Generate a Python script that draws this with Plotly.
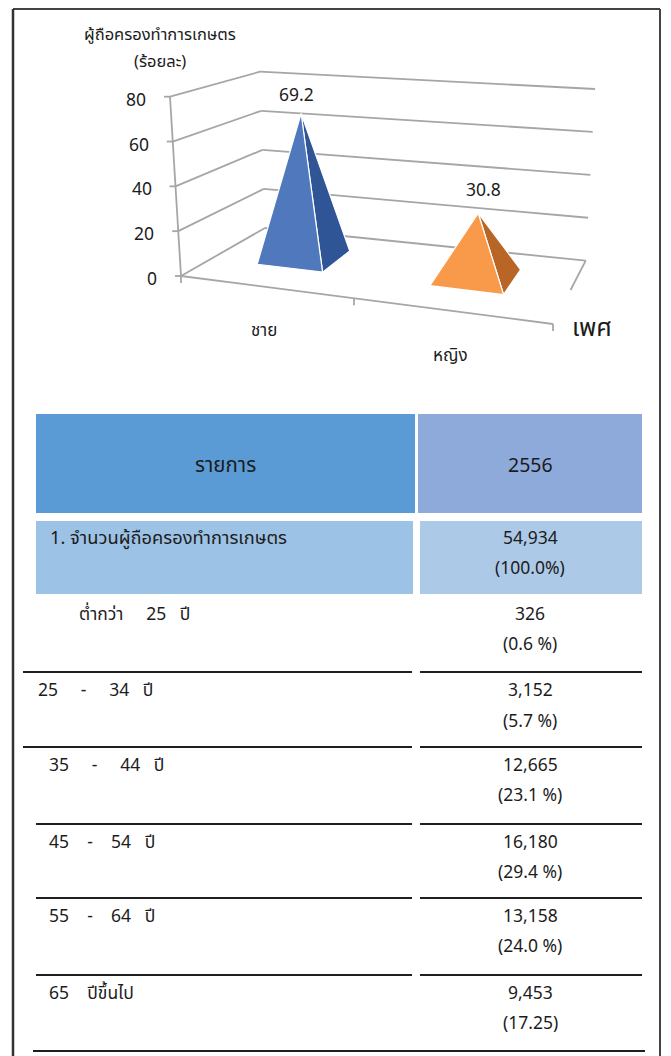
import plotly.graph_objects as go

# ---------- data ----------
categories = ["ชาย", "หญิง"]
share_values = [69.2, 30.8]
value_ticks = [0, 20, 40, 60, 80]
N = "\u00a0"
row_labels = ["1. จำนวนผู้ถือครองทำการเกษตร", f"ต่ำกว่า{N*5}25{N*3}ปี", f"25{N*5}-{N*5}34{N*3}ปี",
              f"35{N*5}-{N*5}44{N*3}ปี", f"45{N*4}-{N*4}54{N*3}ปี",
              f"55{N*4}-{N*4}64{N*3}ปี", f"65{N*4}ปีขึ้นไป"]
row_counts = ["54,934", "326", "3,152", "12,665", "16,180", "13,158", "9,453"]
row_shares = ["(100.0%)", "(0.6 %)", "(5.7 %)", "(23.1 %)", "(29.4 %)", "(24.0 %)", "(17.25)"]

# ---------- layout constants ----------
W, H = 671, 1056
FONT = "Noto Sans, Noto Sans Thai, Tahoma, DejaVu Sans, sans-serif"
TXT = "#1c1c1c"
GRID = "#a6a6a6"
VMAX = 80
# projected corners of the 3-D box: (floor, top)
C = {"FL": ((181, 276), (170, 96.7)), "FR": ((553, 324), (563, 159)),
     "BL": ((265, 228), (260, 71.7)), "BR": ((585.7, 260.7), (595, 89))}
cat_span = [(0.13, 0.315, 0.36, 0.76), (0.62, 0.828, 0.35, 0.76)]
face_cols = [("#5079bd", "#2f5597"), ("#f99a4a", "#b86526")]
cat_label_pos = [(264, 329), (450, 354)]
val_label_pos = [(296, 94), (483, 189)]


def project(t, d, v):
    """Map category position t, depth d and value v to the picture plane."""
    out = []
    for i in (0, 1):
        def corner(name):
            lo, hi = C[name]
            return lo[i] + (hi[i] - lo[i]) * v / VMAX
        front = corner("FL") * (1 - t) + corner("FR") * t
        back = corner("BL") * (1 - t) + corner("BR") * t
        out.append(front * (1 - d) + back * d)
    return out


fig = go.Figure()
shapes = []
annots = []


def line(p, q, color=GRID, width=1.8):
    shapes.append(dict(type="line", xref="x", yref="y", x0=p[0], y0=p[1], x1=q[0], y1=q[1],
                       line=dict(color=color, width=width), layer="below"))


def rect(x0, y0, x1, y1, color):
    shapes.append(dict(type="rect", xref="x", yref="y", x0=x0, y0=y0, x1=x1, y1=y1,
                       fillcolor=color, line=dict(width=0), layer="below"))


def text(x, y, s, size=16, anchor="center", color=TXT):
    annots.append(dict(x=x, y=y, xref="x", yref="y", text=s, showarrow=False, xanchor=anchor,
                       yanchor="middle", font=dict(family=FONT, size=size, color=color)))


# frame
line((13, 9), (660, 9), "#444444", 2)
line((13, 9), (13, H), "#333333", 2.5)
line((660, 9), (660, H), "#444444", 2)

# walls, floor, axes
for v in value_ticks:
    line(project(0, 0, v), project(0, 1, v))
    line(project(0, 1, v), project(1, 1, v))
    a = project(0, 0, v)
    line((a[0] - 6, a[1]), a)
    text(a[0] - 22, a[1] + 2, str(v), size=17.5, anchor="right")
line(project(0, 0, 0), project(0, 0, VMAX))
line(project(0, 0, 0), project(1, 0, 0))
line(project(1, 1, 0), project(1, 0.537, 0))
for t in (0, 0.465, 1):
    a = project(t, 0, 0)
    line(a, (a[0], a[1] + 7))

# pyramids
for val, span, cols, lab, cat, cp in zip(share_values, cat_span, face_cols, val_label_pos, categories, cat_label_pos):
    t0, t1, d0, d1 = span
    apex = project((t0 + t1) / 2, (d0 + d1) / 2, val)
    fl, fr, br = project(t0, d0, 0), project(t1, d0, 0), project(t1, d1, 0)
    for pts, col in (((fr, br, apex), cols[1]), ((fl, fr, apex), cols[0])):
        fig.add_trace(go.Scatter(x=[p[0] for p in pts] + [pts[0][0]], y=[p[1] for p in pts] + [pts[0][1]],
                                 mode="lines", fill="toself", fillcolor=col,
                                 line=dict(color="white", width=1.2), hoverinfo="skip", showlegend=False))
    text(lab[0], lab[1], f"{val:.1f}", size=17.5)
    text(cp[0], cp[1], cat, size=17)

text(160, 33, "ผู้ถือครองทำการเกษตร", size=16.5)
text(160, 60, "(ร้อยละ)", size=16.5)
text(592, 326, "เพศ", size=25)

# table
rect(36, 414, 415, 513, "#5b9bd5")
rect(418, 414, 642, 513, "#8eaadb")
rect(36, 521, 413, 594, "#9cc2e5")
rect(420, 521, 642, 594, "#adc9e8")
text(225, 464, "รายการ", size=20.5)
text(530, 464, "2556", size=19.5)

label_x = [48, 77, 36, 47, 47, 47, 47]
first_y = [537, 613, 689, 764, 841, 915, 992]
second_y = [567, 643, 720, 794, 871, 945, 1022]
for lab, cnt, shr, lx, y1, y2 in zip(row_labels, row_counts, row_shares, label_x, first_y, second_y):
    text(lx, y1, lab, size=18.3 if lab.startswith("1.") else 17.5, anchor="left")
    text(530, y1, cnt, size=17.5)
    text(530, y2, shr, size=17.5)

for y, xl in ((672, 23), (747, 23), (824, 36), (898, 36), (975, 36)):
    line((xl, y), (412, y), "#1f1f1f", 2)
    line((420, y), (642, y), "#1f1f1f", 2)
line((33, 1051), (645, 1051), "#1f1f1f", 2)

fig.update_layout(
    width=W, height=H, margin=dict(l=0, r=0, t=0, b=0), paper_bgcolor="white", plot_bgcolor="white",
    xaxis=dict(range=[0, W], visible=False, fixedrange=True),
    yaxis=dict(range=[H, 0], visible=False, fixedrange=True),
    shapes=shapes, annotations=annots, showlegend=False,
)
fig.write_html("out.html", config={"displayModeBar": False, "responsive": False},
               post_script="document.body.style.margin='0';document.body.style.overflow='hidden';")
